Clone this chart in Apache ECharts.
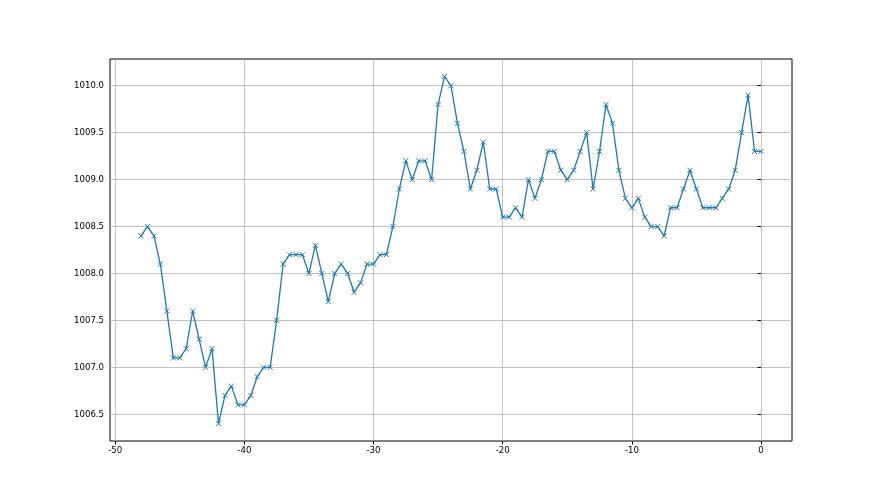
<!DOCTYPE html>
<html>
<head>
<meta charset="utf-8">
<script src="https://cdn.jsdelivr.net/npm/echarts@6/dist/echarts.min.js"></script>
<style>
  html, body { margin: 0; padding: 0; background: #fff; }
  #chart { width: 880px; height: 495px; }
</style>
</head>
<body>
<div id="chart"></div>
<script>
// hours before now, one reading every half hour
const hours = []
for (let i = 0; i <= 96; i++) hours.push(-48 + i * 0.5)

// pressure readings (hPa)
const pressure = [
  1008.4, 1008.5, 1008.4, 1008.1, 1007.6, 1007.1, 1007.1, 1007.2, 1007.6, 1007.3,
  1007.0, 1007.2, 1006.4, 1006.7, 1006.8, 1006.6, 1006.6, 1006.7, 1006.9, 1007.0,
  1007.0, 1007.5, 1008.1, 1008.2, 1008.2, 1008.2, 1008.0, 1008.3, 1008.0, 1007.7,
  1008.0, 1008.1, 1008.0, 1007.8, 1007.9, 1008.1, 1008.1, 1008.2, 1008.2, 1008.5,
  1008.9, 1009.2, 1009.0, 1009.2, 1009.2, 1009.0, 1009.8, 1010.1, 1010.0, 1009.6,
  1009.3, 1008.9, 1009.1, 1009.4, 1008.9, 1008.9, 1008.6, 1008.6, 1008.7, 1008.6,
  1009.0, 1008.8, 1009.0, 1009.3, 1009.3, 1009.1, 1009.0, 1009.1, 1009.3, 1009.5,
  1008.9, 1009.3, 1009.8, 1009.6, 1009.1, 1008.8, 1008.7, 1008.8, 1008.6, 1008.5,
  1008.5, 1008.4, 1008.7, 1008.7, 1008.9, 1009.1, 1008.9, 1008.7, 1008.7, 1008.7,
  1008.8, 1008.9, 1009.1, 1009.5, 1009.9, 1009.3, 1009.3
]

// tick labels
const xTicks = [-50, -40, -30, -20, -10, 0]
const yTicks = [1006.5, 1007.0, 1007.5, 1008.0, 1008.5, 1009.0, 1009.5, 1010.0]

const chart = echarts.init(document.getElementById('chart'))

const labelStyle = {
  color: '#000',
  fontFamily: 'DejaVu Sans Condensed',
  fontSize: 9.5
}

chart.setOption({
  animation: false,
  grid: {
    left: 110,
    right: 88,
    top: 59,
    bottom: 54,
    show: true,
    borderColor: '#000',
    borderWidth: 1
  },
  xAxis: {
    type: 'value',
    min: -50.4,
    max: 2.4,
    axisLine: { show: false },
    axisTick: { show: true, length: 3.5, lineStyle: { color: '#000' }, customValues: xTicks },
    axisLabel: { ...labelStyle, margin: 5, customValues: xTicks, formatter: (v) => String(v) },
    splitLine: { show: true, lineStyle: { color: '#b0b0b0', width: 0.8 } }
  },
  yAxis: {
    type: 'value',
    min: 1006.215,
    max: 1010.285,
    axisLine: { show: false },
    axisTick: { show: true, length: 3.5, lineStyle: { color: '#000' }, customValues: yTicks },
    axisLabel: { ...labelStyle, margin: 6, customValues: yTicks, formatter: (v) => v.toFixed(1) },
    splitLine: { show: true, lineStyle: { color: '#b0b0b0', width: 0.8 } }
  },
  series: [
    {
      type: 'line',
      data: hours.map((h, i) => [h, pressure[i]]),
      symbol: 'path://M0,0L10,10M10,0L0,10',
      symbolSize: 5,
      showAllSymbol: true,
      lineStyle: { color: '#1f77b4', width: 1.3 },
      itemStyle: { color: '#1f77b4', borderColor: '#1f77b4', borderWidth: 1 }
    }
  ]
})
</script>
</body>
</html>
